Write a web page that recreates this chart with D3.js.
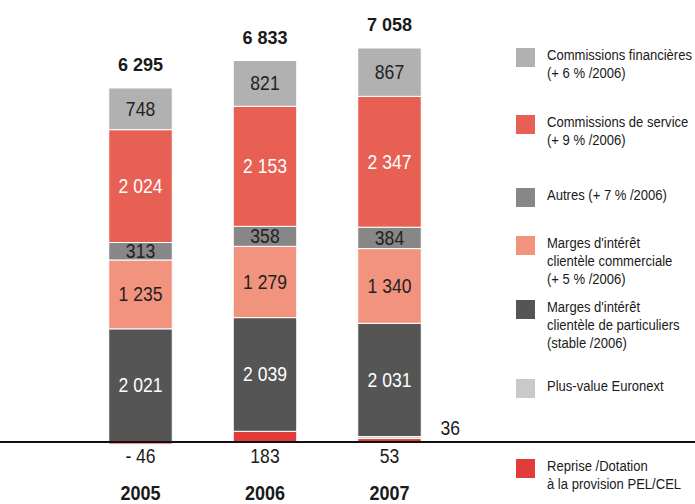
<!DOCTYPE html>
<html lang="fr">
<head>
<meta charset="UTF-8">
<title>Produit net bancaire 2005 - 2007</title>
<script src="https://d3js.org/d3.v7.min.js"></script>
<style>
  body { margin: 0; background: #fff; }
  svg { display: block; font-family: "Liberation Sans", Arial, sans-serif; }
  .seg-label { font-size: 19.5px; text-anchor: middle; }
  .total { font-size: 19px; font-weight: bold; text-anchor: middle; fill: #1a1a1a; }
  .year { font-size: 20px; font-weight: bold; text-anchor: middle; fill: #1a1a1a; }
  .legend text { font-size: 15px; fill: #1a1a1a; }
</style>
</head>
<body>
<svg width="695" height="504"></svg>
<script>
  const years = ["2005", "2006", "2007"];
  // bottom-up stacking order
  const keys = ["pel", "euronext", "particuliers", "commerciale", "autres", "service", "financieres"];
  const pel          = [-46, 183, 53];
  const euronext     = [0, 0, 36];
  const particuliers = [2021, 2039, 2031];
  const commerciale  = [1235, 1279, 1340];
  const autres       = [313, 358, 384];
  const service      = [2024, 2153, 2347];
  const financieres  = [748, 821, 867];
  const totals       = [6295, 6833, 7058];

  const colors = {
    financieres: "#b1b1b1",
    service: "#e86053",
    autres: "#878787",
    commerciale: "#f2937e",
    particuliers: "#545554",
    euronext: "#c9c9c9",
    pel: "#e03c3a"
  };
  const textColors = {
    financieres: "#222", service: "#fff", autres: "#222",
    commerciale: "#222", particuliers: "#fff"
  };

  const legendItems = [
    { key: "financieres", lines: ["Commissions financières", "(+ 6 % /2006)"], top: 48 },
    { key: "service", lines: ["Commissions de service", "(+ 9 % /2006)"], top: 115 },
    { key: "autres", lines: ["Autres (+ 7 % /2006)"], top: 188 },
    { key: "commerciale", lines: ["Marges d'intérêt", "clientèle commerciale", "(+ 5 % /2006)"], top: 236 },
    { key: "particuliers", lines: ["Marges d'intérêt", "clientèle de particuliers", "(stable /2006)"], top: 300 },
    { key: "euronext", lines: ["Plus-value Euronext"], top: 379 },
    { key: "pel", lines: ["Reprise /Dotation", "à la provision PEL/CEL"], top: 459 }
  ];

  const series = { pel, euronext, particuliers, commerciale, autres, service, financieres };
  const table = years.map((yr, i) => {
    const row = { year: yr };
    keys.forEach(k => row[k] = series[k][i]);
    return row;
  });

  const fmt = v => d3.format(",")(v).replace(/,/g, " ");

  // condensed look: squeeze text horizontally
  function label(parent, x, y, str, cls, sx, fill) {
    const t = parent.append("g")
        .attr("transform", `translate(${x},${y}) scale(${sx},1)`)
      .append("text")
        .attr("class", cls)
        .text(str);
    if (fill) t.attr("fill", fill);
    return t;
  }

  const svg = d3.select("svg");

  const x = d3.scaleBand()
      .domain(years)
      .range([47.75, 482.25])
      .padding(0.49);

  const y = d3.scaleLinear()
      .domain([0, 7058])
      .range([441.5, 48]);

  const stack = d3.stack()
      .keys(keys)
      .offset(d3.stackOffsetDiverging);
  const stacked = stack(table);

  const layers = svg.append("g").selectAll("g")
      .data(stacked)
      .join("g")
      .attr("fill", d => colors[d.key]);

  layers.selectAll("rect")
      .data(d => d.filter(p => p[1] !== p[0]))
      .join("rect")
      .attr("x", d => x(d.data.year))
      .attr("width", x.bandwidth())
      .attr("y", d => y(Math.max(d[0], d[1])))
      .attr("height", d => Math.abs(y(d[0]) - y(d[1])))
      .attr("stroke", "#fff")
      .attr("stroke-width", 1);

  const cx = yr => x(yr) + x.bandwidth() / 2;

  // values inside segments
  stacked.filter(s => textColors[s.key]).forEach(s => {
    s.forEach(d => {
      label(svg, cx(d.data.year), (y(d[0]) + y(d[1])) / 2 + 7,
            fmt(d[1] - d[0]), "seg-label", 0.9, textColors[s.key]);
    });
  });

  // totals
  years.forEach((yr, i) => {
    const top = y(d3.max(stacked, s => s[i][1]));
    label(svg, cx(yr), top - 17, fmt(totals[i]), "total", 0.95);
  });

  // baseline
  svg.append("line")
      .attr("x1", 0).attr("x2", 695)
      .attr("y1", y(0) + 0.5).attr("y2", y(0) + 0.5)
      .attr("stroke", "#111")
      .attr("stroke-width", 2.2);

  // PEL/CEL values under the baseline
  years.forEach((yr, i) => {
    label(svg, cx(yr), 463, pel[i] < 0 ? "- " + Math.abs(pel[i]) : pel[i],
          "seg-label", 0.9, "#1a1a1a");
  });

  // Euronext value beside the 2007 bar
  label(svg, x("2007") + x.bandwidth() + 29, 435, euronext[2], "seg-label", 0.9, "#1a1a1a");

  // years
  years.forEach(yr => label(svg, cx(yr), 500, yr, "year", 0.9));

  // legend
  const legend = svg.append("g").attr("class", "legend");
  legendItems.forEach(item => {
    legend.append("rect")
        .attr("x", 516).attr("y", item.top)
        .attr("width", 19).attr("height", 19)
        .attr("fill", colors[item.key]);
    item.lines.forEach((line, j) => {
      label(legend, 547, item.top + 12 + j * 18, line, "", 0.87);
    });
  });
</script>
</body>
</html>
